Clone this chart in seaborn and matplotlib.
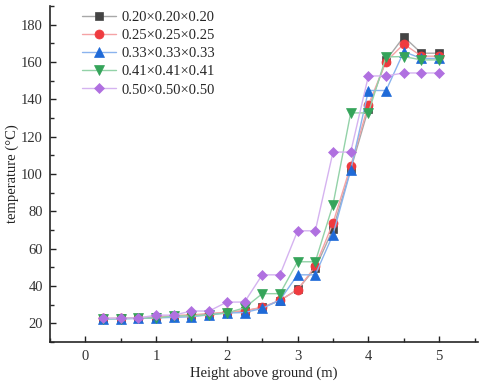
import numpy as np
import pandas as pd
import matplotlib
matplotlib.use('Agg')
import matplotlib.pyplot as plt
import seaborn as sns
from matplotlib.ticker import MultipleLocator

# -----------------------------
# DATA
# -----------------------------
heights = [0.25, 0.5, 0.75, 1.0, 1.25, 1.5, 1.75, 2.0, 2.25, 2.5,
           2.75, 3.0, 3.25, 3.5, 3.75, 4.0, 4.25, 4.5, 4.75, 5.0]

labels = ["0.20×0.20×0.20", "0.25×0.25×0.25", "0.33×0.33×0.33",
          "0.41×0.41×0.41", "0.50×0.50×0.50"]

t_020 = [22.5, 22.6, 22.8, 23.2, 23.8, 24.3, 25.0, 25.8, 26.6, 28.5,
         32.2, 38.2, 49.5, 70.5, 102.5, 135.0, 161.0, 173.6, 164.8, 164.8]
t_025 = [22.6, 22.8, 23.0, 23.6, 24.2, 24.6, 25.2, 26.0, 26.8, 28.6,
         32.4, 38.0, 50.6, 73.8, 104.4, 137.1, 160.3, 169.7, 163.2, 163.2]
t_033 = [22.3, 22.4, 22.6, 22.9, 23.2, 23.5, 24.6, 25.5, 25.8, 28.0,
         32.5, 46.0, 46.0, 67.6, 102.1, 144.8, 144.8, 165.6, 162.0, 162.0]
t_041 = [22.4, 22.5, 22.8, 22.8, 24.0, 24.0, 24.6, 25.6, 28.3, 35.9,
         35.9, 53.0, 53.0, 83.6, 132.8, 132.8, 162.8, 163.0, 161.2, 161.2]
t_050 = [22.7, 22.8, 22.9, 24.4, 24.4, 26.6, 26.6, 31.4, 31.4, 46.0,
         46.0, 69.6, 69.6, 111.8, 111.8, 152.6, 152.6, 154.2, 154.2, 154.2]

series = [t_020, t_025, t_033, t_041, t_050]

# -----------------------------
# STYLE
# -----------------------------
marker_colors = ["#444444", "#ef3b3f", "#1f6ad8", "#35a45a", "#b070e0"]
line_colors = ["#a8a8a8", "#f5a3a5", "#8ab3ee", "#93d2a8", "#d5b3f0"]
markers = ["s", "o", "^", "v", "D"]
msizes = [6, 6.5, 6.5, 6.5, 5.5]

sns.set_style("ticks")
plt.rcParams['font.family'] = ['Liberation Serif', 'DejaVu Serif']

fig = plt.figure(figsize=(4.8, 3.86), dpi=100)
ax = fig.add_axes([0.104, 0.114, 0.892, 0.87])

for vals, lab, mc, lc, mk, ms in zip(series, labels, marker_colors,
                                     line_colors, markers, msizes):
    df = pd.DataFrame({"h": heights, "t": vals})
    sns.lineplot(data=df, x="h", y="t", ax=ax, color=lc, linewidth=1.0,
                 marker=mk, markersize=ms, markerfacecolor=mc,
                 markeredgecolor=mc, markeredgewidth=0.5, label=lab)

ax.set_xlim(-0.5, 5.55)
ax.set_ylim(10, 190)
ax.xaxis.set_major_locator(MultipleLocator(1))
ax.xaxis.set_minor_locator(MultipleLocator(0.5))
ax.yaxis.set_minor_locator(MultipleLocator(10))
ax.set_yticks(np.arange(20, 181, 20))

ax.tick_params(which="major", direction="in", length=4.5, width=1.0,
               labelsize=10.5, colors="#222222", labelcolor="#333333")
ax.tick_params(which="minor", direction="in", length=3, width=1.0)
ax.tick_params(axis="y", which="major", pad=5)
ax.tick_params(axis="x", which="major", pad=6)
for s in ["left", "bottom"]:
    ax.spines[s].set_linewidth(1.2)
sns.despine(ax=ax)

ax.set_xlabel("Height above ground (m)", fontsize=10.5, labelpad=2, color="#222222")
ax.set_ylabel("temperature (°C)", fontsize=10.5, color="#222222")
ax.yaxis.set_label_coords(-0.072, 0.5)

ax.legend(loc="upper left", bbox_to_anchor=(0.075, 0.985), frameon=False,
          fontsize=10.5, handlelength=2.3, handletextpad=0.4,
          labelspacing=0.33, borderpad=0, borderaxespad=0)

plt.savefig("out.png", dpi=100)
plt.close()
